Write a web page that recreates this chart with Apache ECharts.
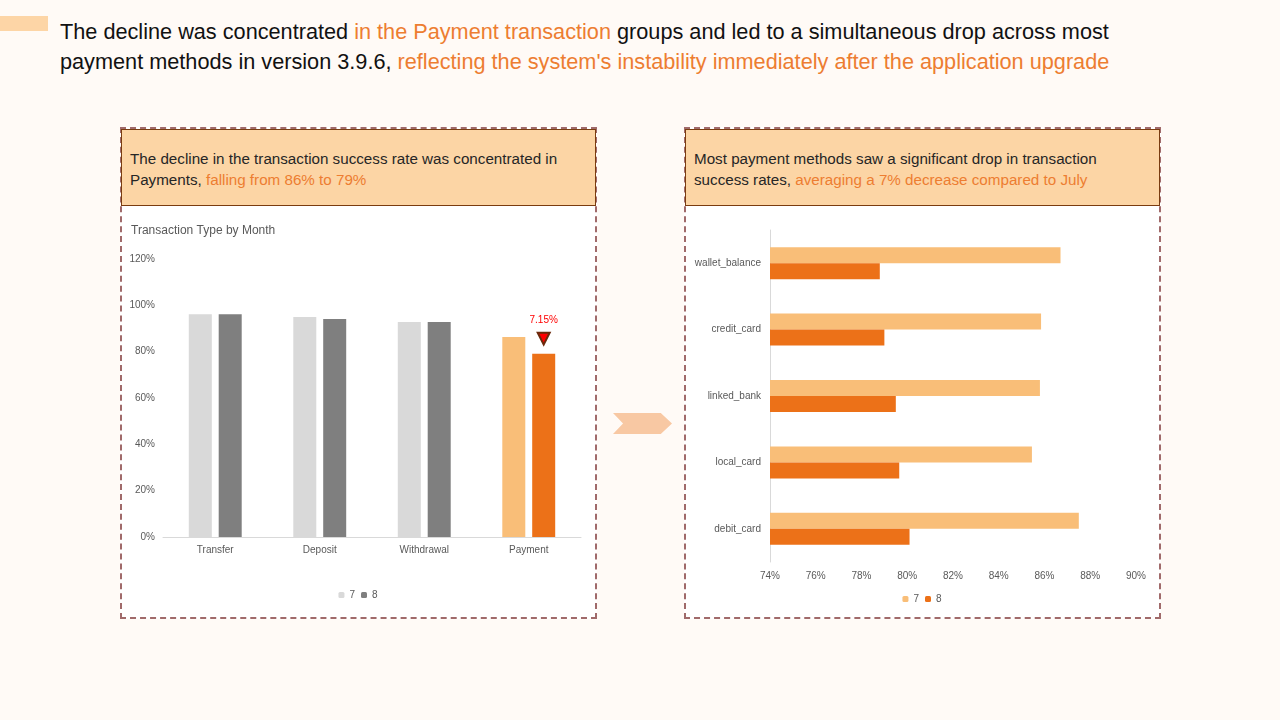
<!DOCTYPE html>
<html>
<head>
<meta charset="utf-8">
<script src="https://cdn.jsdelivr.net/npm/echarts@6/dist/echarts.min.js"></script>
<style>
  body { margin: 0; width: 1280px; height: 720px; background: #fffaf6; position: relative; overflow: hidden;
         font-family: "Liberation Sans", Arial, sans-serif; }
  .tag { position: absolute; left: 0; top: 16px; width: 48px; height: 15px; background: #fdd5a6; }
  .headline { position: absolute; left: 60px; top: 17px; font-size: 21.7px; line-height: 29.5px; color: #111;
              white-space: nowrap; }
  .hl { color: #ed7d31; }
  .panel { position: absolute; top: 127px; width: 473px; height: 488px; background: #fff;
           border: 2px dashed #a06a6a; }
  .head { position: absolute; left: -1px; top: 0; width: 475px; height: 77px; background: #fcd5a5;
          border: 1px solid #7a3c10; box-sizing: border-box; padding: 18px 8px; font-size: 15.2px;
          line-height: 21px; color: #262626; white-space: nowrap; }
  .chev { position: absolute; left: 613px; top: 413px; width: 59px; height: 21px; background: #f8c8a3;
          clip-path: polygon(0 0, 81% 0, 100% 50%, 81% 100%, 0 100%, 17% 50%); }
  .chart { position: absolute; top: 208px; width: 472px; height: 407px; }
</style>
</head>
<body>
<div class="tag"></div>
<div class="headline">The decline was concentrated <span class="hl">in the Payment transaction</span> groups and led to a simultaneous drop across most<br>payment methods in version 3.9.6, <span class="hl">reflecting the system's instability immediately after the application upgrade</span></div>

<div class="panel" style="left:120px">
  <div class="head">The decline in the transaction success rate was concentrated in<br>Payments, <span class="hl">falling from 86% to 79%</span></div>
</div>
<div class="panel" style="left:684px">
  <div class="head">Most payment methods saw a significant drop in transaction<br>success rates, <span class="hl">averaging a 7% decrease compared to July</span></div>
</div>
<div class="chev"></div>

<div id="chart1" class="chart" style="left:122px"></div>
<div id="chart2" class="chart" style="left:686px"></div>

<script>
// months
var months = ['7', '8'];

// left chart: success rate by transaction type (%)
var txTypes = ['Transfer', 'Deposit', 'Withdrawal', 'Payment'];
var txJul = [96.2, 95.0, 92.8, 86.3];
var txAug = [96.2, 94.1, 92.8, 79.15];
var txTicks = [0, 20, 40, 60, 80, 100, 120];

// right chart: success rate by payment method (%)
var methods = ['wallet_balance', 'credit_card', 'linked_bank', 'local_card', 'debit_card'];
var methodJul = [86.7, 85.85, 85.8, 85.45, 87.5];
var methodAug = [78.8, 79.0, 79.5, 79.65, 80.1];
var methodTicks = [74, 76, 78, 80, 82, 84, 86, 88, 90];

var labelFont = '"Liberation Sans", Arial, sans-serif';
var grayLight = '#d9d9d9', grayDark = '#7f7f7f';
var orangeLight = '#f9be78', orangeDark = '#ec7118';
var focus = txTypes.indexOf('Payment');

function paint(values, base, hot) {
    return values.map(function (v, i) {
        return i === focus ? { value: v, itemStyle: { color: hot } } : { value: v, itemStyle: { color: base } };
    });
}

void function () {
    var myChart = echarts.init(document.getElementById('chart1'));
    var drop = (txJul[focus] - txAug[focus]).toFixed(2);

    var option = {
        animation: false,
        title: {
            text: 'Transaction Type by Month',
            left: 4,
            top: 12,
            textStyle: { fontFamily: labelFont, fontSize: 12, fontWeight: 'normal', color: '#595959' }
        },
        legend: {
            data: months,
            bottom: 10,
            left: 'center',
            itemWidth: 6,
            itemHeight: 6,
            itemGap: 6,
            textStyle: { fontFamily: labelFont, fontSize: 10, color: '#595959' }
        },
        grid: { left: 41, right: 13, top: 51, bottom: 78 },
        xAxis: {
            type: 'category',
            data: txTypes,
            axisTick: { show: false },
            axisLine: { lineStyle: { color: grayLight } },
            axisLabel: { fontFamily: labelFont, fontSize: 10, color: '#595959', margin: 8 }
        },
        yAxis: {
            type: 'value',
            min: txTicks[0],
            max: txTicks[txTicks.length - 1],
            interval: txTicks[1] - txTicks[0],
            splitLine: { show: false },
            axisLine: { show: false },
            axisTick: { show: false },
            axisLabel: { fontFamily: labelFont, fontSize: 10, color: '#595959', margin: 8, formatter: '{value}%' }
        },
        series: [{
            name: months[0],
            type: 'bar',
            barWidth: 23,
            barGap: '30%',
            itemStyle: { color: grayLight },
            data: paint(txJul, grayLight, orangeLight)
        }, {
            name: months[1],
            type: 'bar',
            barWidth: 23,
            itemStyle: { color: grayDark },
            data: paint(txAug, grayDark, orangeDark),
            markPoint: {
                symbol: 'triangle',
                symbolRotate: 180,
                symbolSize: [12, 12],
                symbolOffset: [0, -15],
                itemStyle: { color: '#ff0000', borderColor: '#6b2a0c', borderWidth: 2 },
                label: {
                    show: true,
                    position: 'top',
                    distance: 6,
                    fontFamily: labelFont,
                    fontSize: 10,
                    color: '#ff0000',
                    formatter: drop + '%'
                },
                data: [{ coord: [focus, txAug[focus]] }]
            }
        }]
    };
    myChart.setOption(option);
}();

void function () {
    var myChart = echarts.init(document.getElementById('chart2'));
    var option = {
        animation: false,
        legend: {
            data: months,
            bottom: 6,
            left: 'center',
            itemWidth: 6,
            itemHeight: 6,
            itemGap: 6,
            textStyle: { fontFamily: labelFont, fontSize: 10, color: '#595959' }
        },
        grid: { left: 84, right: 22, top: 22, bottom: 53 },
        xAxis: {
            type: 'value',
            min: methodTicks[0],
            max: methodTicks[methodTicks.length - 1],
            interval: methodTicks[1] - methodTicks[0],
            splitLine: { show: false },
            axisLine: { show: false },
            axisTick: { show: false },
            axisLabel: { fontFamily: labelFont, fontSize: 10, color: '#595959', margin: 9, formatter: '{value}%' }
        },
        yAxis: {
            type: 'category',
            inverse: true,
            data: methods,
            axisTick: { show: false },
            axisLine: { lineStyle: { color: grayLight } },
            axisLabel: { fontFamily: labelFont, fontSize: 10, color: '#595959', margin: 9 }
        },
        series: [{
            name: months[0],
            type: 'bar',
            barWidth: 16,
            barGap: 0,
            itemStyle: { color: orangeLight },
            data: methodJul
        }, {
            name: months[1],
            type: 'bar',
            barWidth: 16,
            itemStyle: { color: orangeDark },
            data: methodAug
        }]
    };
    myChart.setOption(option);
}();
</script>
</body>
</html>
